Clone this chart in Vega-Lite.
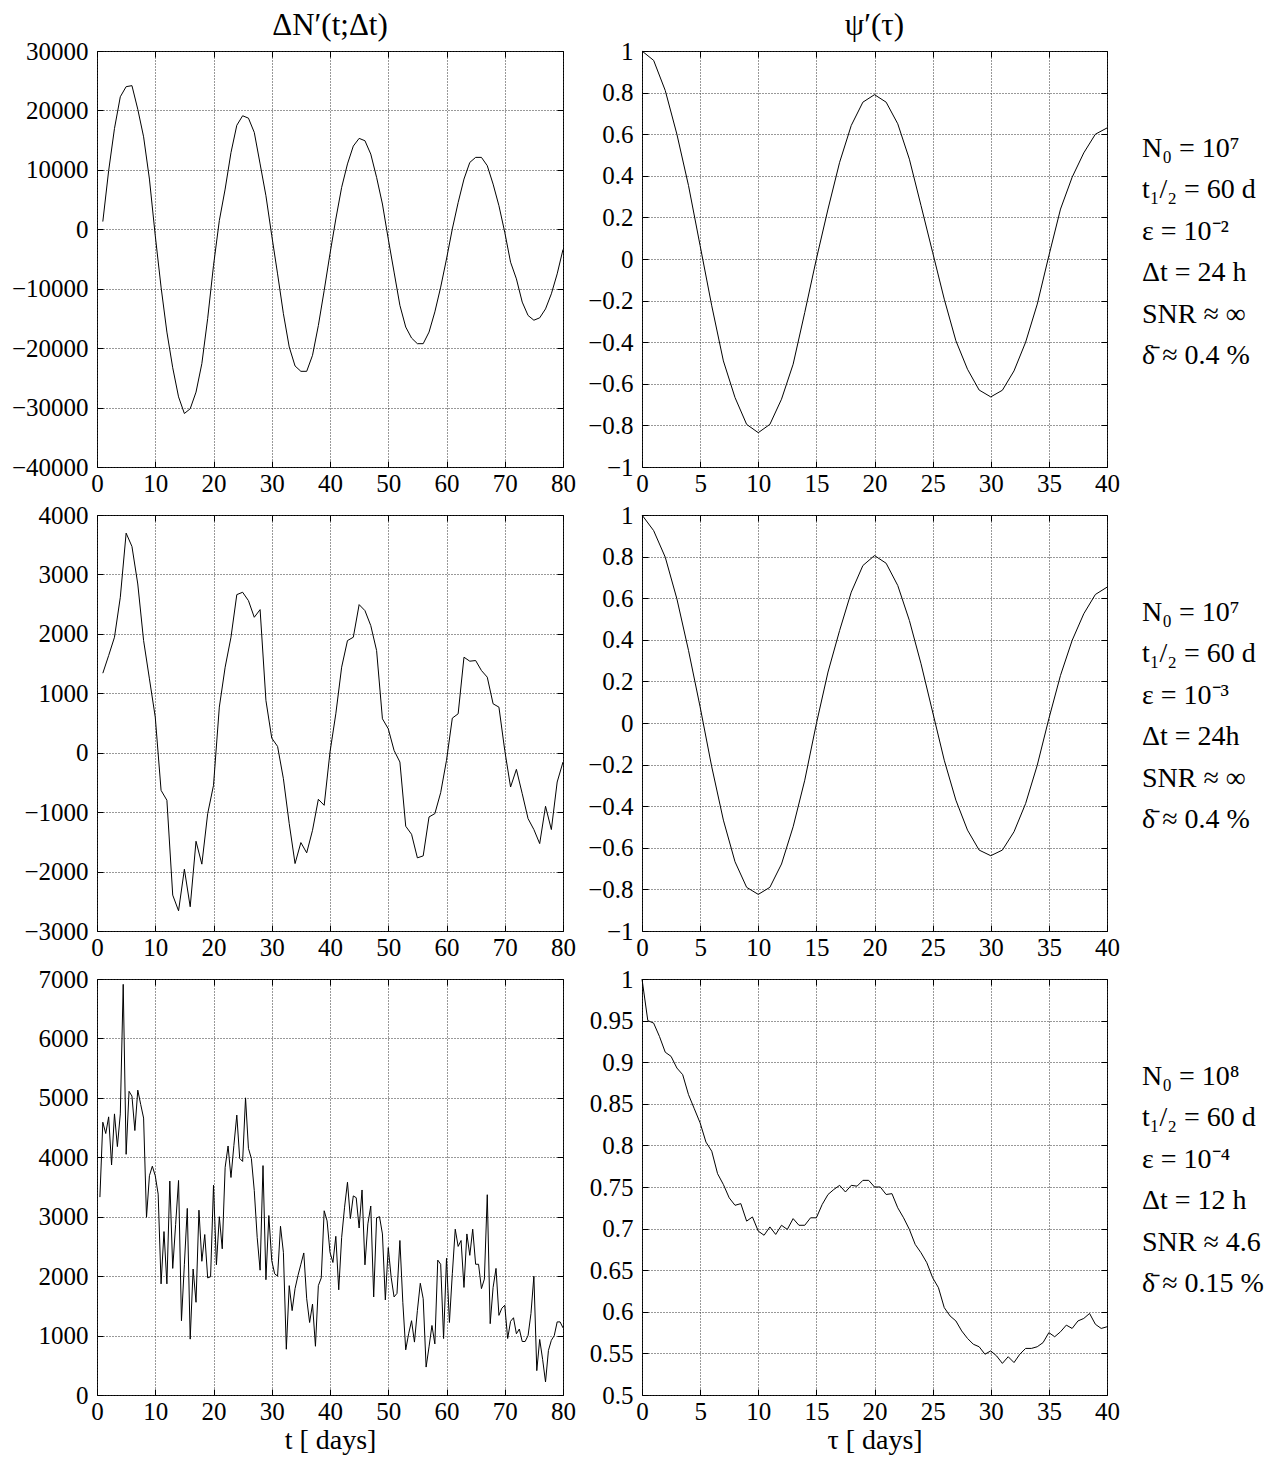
{
  "$schema": "https://vega.github.io/schema/vega-lite/v6.json",
  "background": "white",
  "padding": {"left": 10, "top": 9, "right": 5, "bottom": 5},
  "config": {
    "font": "Liberation Serif",
    "view": {"stroke": "black", "strokeWidth": 1},
    "axis": {
      "labelFont": "Liberation Serif", "labelFontSize": 25, "labelColor": "black",
      "titleFont": "Liberation Serif", "titleFontSize": 28, "titleFontWeight": "normal", "titleColor": "black", "titlePadding": 2,
      "domain": false, "ticks": true, "tickSize": -6, "tickColor": "black", "tickWidth": 1,
      "grid": true, "gridColor": "#333333", "gridDash": [1, 2], "gridWidth": 1,
      "labelOverlap": false, "labelFlush": false
    },
    "axisX": {"labelPadding": 10},
    "axisY": {"labelPadding": 15},
    "title": {"font": "Liberation Serif", "fontSize": 31, "fontWeight": "normal", "color": "black", "offset": -3, "anchor": "middle"}
  },
  "datasets": {
    "r1L": [{"t":1,"v":1300},{"t":2,"v":9850},{"t":3,"v":16960},{"t":4,"v":22300},{"t":5,"v":24000},{"t":6,"v":24170},{"t":7,"v":20200},{"t":8,"v":15560},{"t":9,"v":8450},{"t":10,"v":-1060},
      {"t":11,"v":-9740},{"t":12,"v":-17300},{"t":13,"v":-23300},{"t":14,"v":-28200},{"t":15,"v":-31000},{"t":16,"v":-30200},{"t":17,"v":-27400},{"t":18,"v":-22600},{"t":19,"v":-15000},{"t":20,"v":-6100},
      {"t":21,"v":1450},{"t":22,"v":6770},{"t":23,"v":12900},{"t":24,"v":17500},{"t":25,"v":19100},{"t":26,"v":18700},{"t":27,"v":16300},{"t":28,"v":11000},{"t":29,"v":5650},{"t":30,"v":-1060},
      {"t":31,"v":-7500},{"t":32,"v":-14200},{"t":33,"v":-19800},{"t":34,"v":-23000},{"t":35,"v":-23900},{"t":36,"v":-23900},{"t":37,"v":-21200},{"t":38,"v":-16200},{"t":39,"v":-10300},{"t":40,"v":-4100},
      {"t":41,"v":1730},{"t":42,"v":7050},{"t":43,"v":11000},{"t":44,"v":14000},{"t":45,"v":15300},{"t":46,"v":14900},{"t":47,"v":12650},{"t":48,"v":8730},{"t":49,"v":4250},{"t":50,"v":-1620},
      {"t":51,"v":-7200},{"t":52,"v":-12800},{"t":53,"v":-16450},{"t":54,"v":-18300},{"t":55,"v":-19250},{"t":56,"v":-19250},{"t":57,"v":-17300},{"t":58,"v":-13900},{"t":59,"v":-9740},{"t":60,"v":-5000},
      {"t":61,"v":60},{"t":62,"v":4500},{"t":63,"v":8450},{"t":64,"v":11250},{"t":65,"v":12100},{"t":66,"v":12100},{"t":67,"v":10700},{"t":68,"v":7600},{"t":69,"v":3970},{"t":70,"v":-500},
      {"t":71,"v":-5540},{"t":72,"v":-8340},{"t":73,"v":-12250},{"t":74,"v":-14500},{"t":75,"v":-15300},{"t":76,"v":-14900},{"t":77,"v":-13400},{"t":78,"v":-10860},{"t":79,"v":-7500},{"t":80,"v":-3400}],
    "r1R": [{"t":0,"v":1.0},{"t":1,"v":0.955},{"t":2,"v":0.81},{"t":3,"v":0.6},{"t":4,"v":0.353},{"t":5,"v":0.064},{"t":6,"v":-0.225},{"t":7,"v":-0.49},{"t":8,"v":-0.666},{"t":9,"v":-0.795},
      {"t":10,"v":-0.835},{"t":11,"v":-0.795},{"t":12,"v":-0.674},{"t":13,"v":-0.506},{"t":14,"v":-0.257},{"t":15,"v":0.0},{"t":16,"v":0.24},{"t":17,"v":0.465},{"t":18,"v":0.642},{"t":19,"v":0.754},
      {"t":20,"v":0.79},{"t":21,"v":0.754},{"t":22,"v":0.65},{"t":23,"v":0.48},{"t":24,"v":0.257},{"t":25,"v":0.032},{"t":26,"v":-0.193},{"t":27,"v":-0.393},{"t":28,"v":-0.53},{"t":29,"v":-0.63},
      {"t":30,"v":-0.663},{"t":31,"v":-0.631},{"t":32,"v":-0.538},{"t":33,"v":-0.4},{"t":34,"v":-0.217},{"t":35,"v":0.016},{"t":36,"v":0.24},{"t":37,"v":0.393},{"t":38,"v":0.51},{"t":39,"v":0.6},{"t":40,"v":0.63}],
    "r2L": [{"t":1,"v":1338},{"t":2,"v":1635},{"t":3,"v":1943},{"t":4,"v":2615},{"t":5,"v":3695},{"t":6,"v":3471},{"t":7,"v":2839},{"t":8,"v":1887},{"t":9,"v":1243},{"t":10,"v":600},
      {"t":11,"v":-633},{"t":12,"v":-800},{"t":13,"v":-2396},{"t":14,"v":-2660},{"t":15,"v":-1960},{"t":16,"v":-2592},{"t":17,"v":-1490},{"t":18,"v":-1875},{"t":19,"v":-1025},{"t":20,"v":-549},
      {"t":21,"v":767},{"t":22,"v":1439},{"t":23,"v":1943},{"t":24,"v":2660},{"t":25,"v":2700},{"t":26,"v":2559},{"t":27,"v":2279},{"t":28,"v":2408},{"t":29,"v":879},{"t":30,"v":246},
      {"t":31,"v":106},{"t":32,"v":-437},{"t":33,"v":-1193},{"t":34,"v":-1865},{"t":35,"v":-1512},{"t":36,"v":-1685},{"t":37,"v":-1305},{"t":38,"v":-784},{"t":39,"v":-885},{"t":40,"v":11},
      {"t":41,"v":655},{"t":42,"v":1439},{"t":43,"v":1887},{"t":44,"v":1943},{"t":45,"v":2492},{"t":46,"v":2391},{"t":47,"v":2139},{"t":48,"v":1719},{"t":49,"v":571},{"t":50,"v":403},
      {"t":51,"v":39},{"t":52,"v":-157},{"t":53,"v":-1237},{"t":54,"v":-1372},{"t":55,"v":-1769},{"t":56,"v":-1736},{"t":57,"v":-1081},{"t":58,"v":-1025},{"t":59,"v":-672},{"t":60,"v":-129},
      {"t":61,"v":582},{"t":62,"v":655},{"t":63,"v":1607},{"t":64,"v":1540},{"t":65,"v":1551},{"t":66,"v":1383},{"t":67,"v":1271},{"t":68,"v":823},{"t":69,"v":767},{"t":70,"v":39},
      {"t":71,"v":-577},{"t":72,"v":-280},{"t":73,"v":-689},{"t":74,"v":-1109},{"t":75,"v":-1293},{"t":76,"v":-1529},{"t":77,"v":-901},{"t":78,"v":-1293},{"t":79,"v":-493},{"t":80,"v":-157}],
    "r2R": [{"t":0,"v":1.0},{"t":1,"v":0.925},{"t":2,"v":0.797},{"t":3,"v":0.597},{"t":4,"v":0.349},{"t":5,"v":0.077},{"t":6,"v":-0.211},{"t":7,"v":-0.467},{"t":8,"v":-0.667},{"t":9,"v":-0.79},
      {"t":10,"v":-0.824},{"t":11,"v":-0.79},{"t":12,"v":-0.678},{"t":13,"v":-0.499},{"t":14,"v":-0.275},{"t":15,"v":-0.003},{"t":16,"v":0.245},{"t":17,"v":0.445},{"t":18,"v":0.629},{"t":19,"v":0.757},
      {"t":20,"v":0.805},{"t":21,"v":0.768},{"t":22,"v":0.661},{"t":23,"v":0.493},{"t":24,"v":0.285},{"t":25,"v":0.053},{"t":26,"v":-0.179},{"t":27,"v":-0.371},{"t":28,"v":-0.515},{"t":29,"v":-0.611},
      {"t":30,"v":-0.638},{"t":31,"v":-0.611},{"t":32,"v":-0.523},{"t":33,"v":-0.387},{"t":34,"v":-0.203},{"t":35,"v":0.021},{"t":36,"v":0.229},{"t":37,"v":0.397},{"t":38,"v":0.525},{"t":39,"v":0.618},{"t":40,"v":0.653}],
    "r3L": [{"t":0.5,"v":3330},{"t":1,"v":4590},{"t":1.5,"v":4400},{"t":2,"v":4680},{"t":2.5,"v":3870},{"t":3,"v":4730},{"t":3.5,"v":4180},{"t":4,"v":4730},{"t":4.5,"v":6910},{"t":5,"v":4050},
      {"t":5.5,"v":5110},{"t":6,"v":5030},{"t":6.5,"v":4450},{"t":7,"v":5130},{"t":7.5,"v":4890},{"t":8,"v":4660},{"t":8.5,"v":2990},{"t":9,"v":3690},{"t":9.5,"v":3850},{"t":10,"v":3690},
      {"t":10.5,"v":3380},{"t":11,"v":1870},{"t":11.5,"v":2750},{"t":12,"v":1870},{"t":12.5,"v":3600},{"t":13,"v":2130},{"t":13.5,"v":2870},{"t":14,"v":3610},{"t":14.5,"v":1250},{"t":15,"v":2200},
      {"t":15.5,"v":3140},{"t":16,"v":940},{"t":16.5,"v":2120},{"t":17,"v":1560},{"t":17.5,"v":3110},{"t":18,"v":2250},{"t":18.5,"v":2700},{"t":19,"v":1970},{"t":19.5,"v":1990},{"t":20,"v":3530},
      {"t":20.5,"v":2190},{"t":21,"v":3000},{"t":21.5,"v":2460},{"t":22,"v":3830},{"t":22.5,"v":4190},{"t":23,"v":3660},{"t":23.5,"v":4200},{"t":24,"v":4710},{"t":24.5,"v":3980},{"t":25,"v":3930},
      {"t":25.5,"v":5000},{"t":26,"v":4150},{"t":26.5,"v":3980},{"t":27,"v":3440},{"t":27.5,"v":2650},{"t":28,"v":2100},{"t":28.5,"v":3860},{"t":29,"v":1940},{"t":29.5,"v":3020},{"t":30,"v":2260},
      {"t":30.5,"v":2040},{"t":31,"v":2000},{"t":31.5,"v":2840},{"t":32,"v":2400},{"t":32.5,"v":770},{"t":33,"v":1840},{"t":33.5,"v":1420},{"t":34,"v":1790},{"t":34.5,"v":2010},{"t":35,"v":2200},
      {"t":35.5,"v":2390},{"t":36,"v":1620},{"t":36.5,"v":1220},{"t":37,"v":1530},{"t":37.5,"v":820},{"t":38,"v":1840},{"t":38.5,"v":1970},{"t":39,"v":3100},{"t":39.5,"v":2930},{"t":40,"v":2400},
      {"t":40.5,"v":2230},{"t":41,"v":2670},{"t":41.5,"v":1770},{"t":42,"v":2650},{"t":42.5,"v":3160},{"t":43,"v":3580},{"t":43.5,"v":2970},{"t":44,"v":3350},{"t":44.5,"v":3320},{"t":45,"v":2810},
      {"t":45.5,"v":3450},{"t":46,"v":2190},{"t":46.5,"v":2880},{"t":47,"v":3180},{"t":47.5,"v":1650},{"t":48,"v":2980},{"t":48.5,"v":3000},{"t":49,"v":2710},{"t":49.5,"v":1600},{"t":50,"v":2480},
      {"t":50.5,"v":1980},{"t":51,"v":1650},{"t":51.5,"v":1710},{"t":52,"v":2600},{"t":52.5,"v":1560},{"t":53,"v":760},{"t":53.5,"v":1030},{"t":54,"v":1250},{"t":54.5,"v":890},{"t":55,"v":1420},
      {"t":55.5,"v":1880},{"t":56,"v":1620},{"t":56.5,"v":470},{"t":57,"v":810},{"t":57.5,"v":1170},{"t":58,"v":860},{"t":58.5,"v":2270},{"t":59,"v":2200},{"t":59.5,"v":950},{"t":60,"v":2300},
      {"t":60.5,"v":1220},{"t":61,"v":2040},{"t":61.5,"v":2790},{"t":62,"v":2500},{"t":62.5,"v":2600},{"t":63,"v":1810},{"t":63.5,"v":2710},{"t":64,"v":2350},{"t":64.5,"v":2790},{"t":65,"v":2200},
      {"t":65.5,"v":2200},{"t":66,"v":1790},{"t":66.5,"v":1950},{"t":67,"v":3370},{"t":67.5,"v":1200},{"t":68,"v":1810},{"t":68.5,"v":2130},{"t":69,"v":1340},{"t":69.5,"v":1460},{"t":70,"v":1510},
      {"t":70.5,"v":950},{"t":71,"v":1240},{"t":71.5,"v":1300},{"t":72,"v":1030},{"t":72.5,"v":1110},{"t":73,"v":900},{"t":73.5,"v":900},{"t":74,"v":1000},{"t":74.5,"v":1370},{"t":75,"v":2000},
      {"t":75.5,"v":410},{"t":76,"v":935},{"t":76.5,"v":600},{"t":77,"v":220},{"t":77.5,"v":750},{"t":78,"v":920},{"t":78.5,"v":1000},{"t":79,"v":1230},{"t":79.5,"v":1230},{"t":80,"v":1130}],
    "r3R": [{"t":0,"v":1.0},{"t":0.5,"v":0.95},{"t":1,"v":0.947},{"t":1.5,"v":0.931},{"t":2,"v":0.912},{"t":2.5,"v":0.907},{"t":3,"v":0.893},{"t":3.5,"v":0.885},{"t":4,"v":0.861},{"t":4.5,"v":0.844},
      {"t":5,"v":0.827},{"t":5.5,"v":0.804},{"t":6,"v":0.793},{"t":6.5,"v":0.766},{"t":7,"v":0.753},{"t":7.5,"v":0.737},{"t":8,"v":0.728},{"t":8.5,"v":0.73},{"t":9,"v":0.709},{"t":9.5,"v":0.714},
      {"t":10,"v":0.697},{"t":10.5,"v":0.692},{"t":11,"v":0.702},{"t":11.5,"v":0.693},{"t":12,"v":0.704},{"t":12.5,"v":0.699},{"t":13,"v":0.712},{"t":13.5,"v":0.704},{"t":14,"v":0.704},{"t":14.5,"v":0.713},
      {"t":15,"v":0.713},{"t":15.5,"v":0.729},{"t":16,"v":0.741},{"t":16.5,"v":0.747},{"t":17,"v":0.752},{"t":17.5,"v":0.744},{"t":18,"v":0.752},{"t":18.5,"v":0.751},{"t":19,"v":0.758},{"t":19.5,"v":0.758},
      {"t":20,"v":0.75},{"t":20.5,"v":0.75},{"t":21,"v":0.741},{"t":21.5,"v":0.742},{"t":22,"v":0.725},{"t":22.5,"v":0.713},{"t":23,"v":0.699},{"t":23.5,"v":0.681},{"t":24,"v":0.671},{"t":24.5,"v":0.659},
      {"t":25,"v":0.641},{"t":25.5,"v":0.629},{"t":26,"v":0.605},{"t":26.5,"v":0.595},{"t":27,"v":0.589},{"t":27.5,"v":0.577},{"t":28,"v":0.568},{"t":28.5,"v":0.561},{"t":29,"v":0.558},{"t":29.5,"v":0.549},
      {"t":30,"v":0.553},{"t":30.5,"v":0.547},{"t":31,"v":0.538},{"t":31.5,"v":0.546},{"t":32,"v":0.539},{"t":32.5,"v":0.549},{"t":33,"v":0.556},{"t":33.5,"v":0.556},{"t":34,"v":0.558},{"t":34.5,"v":0.563},
      {"t":35,"v":0.575},{"t":35.5,"v":0.57},{"t":36,"v":0.576},{"t":36.5,"v":0.584},{"t":37,"v":0.58},{"t":37.5,"v":0.589},{"t":38,"v":0.592},{"t":38.5,"v":0.598},{"t":39,"v":0.585},{"t":39.5,"v":0.58},{"t":40,"v":0.582}],
    "a1": [{"line":1,"col":1,"text":"N₀ = 10⁷"},{"line":2,"col":1,"text":"t₁/₂ = 60 d"},{"line":3,"col":1,"text":"ε = 10⁻²"},{"line":4,"col":1,"text":"Δt = 24 h"},{"line":5,"col":1,"text":"SNR ≈ ∞"},{"line":6,"col":1,"text":"δ̄ ≈ 0.4 %"}],
    "a2": [{"line":1,"col":1,"text":"N₀ = 10⁷"},{"line":2,"col":1,"text":"t₁/₂ = 60 d"},{"line":3,"col":1,"text":"ε = 10⁻³"},{"line":4,"col":1,"text":"Δt =  24h"},{"line":5,"col":1,"text":"SNR ≈ ∞"},{"line":6,"col":1,"text":"δ̄ ≈ 0.4 %"}],
    "a3": [{"line":1,"col":1,"text":"N₀ = 10⁸"},{"line":2,"col":1,"text":"t₁/₂ = 60 d"},{"line":3,"col":1,"text":"ε = 10⁻⁴"},{"line":4,"col":1,"text":"Δt = 12 h"},{"line":5,"col":1,"text":"SNR ≈ 4.6"},{"line":6,"col":1,"text":"δ̄ ≈ 0.15 %"}]
  },
  "columns": 2,
  "bounds": "flush",
  "spacing": {"row": 48, "column": 79},
  "concat": [
    {
      "width": 466, "height": 416, "title": "ΔN′(t;Δt)",
      "data": {"name": "r1L"},
      "layer": [
        {"mark": {"type": "line", "color": "black", "strokeWidth": 1},
         "encoding": {
           "x": {"field": "t", "type": "quantitative", "scale": {"domain": [0, 80], "nice": false, "zero": false}, "axis": {"orient": "bottom", "values": [0,10,20,30,40,50,60,70,80], "format": "d", "title": null}},
           "y": {"field": "v", "type": "quantitative", "scale": {"domain": [-40000, 30000], "nice": false, "zero": false}, "axis": {"orient": "left", "values": [-40000,-30000,-20000,-10000,0,10000,20000,30000], "format": "d", "title": null}}
         }},
        {"mark": {"type": "line", "strokeOpacity": 0},
         "encoding": {
           "x": {"field": "t", "type": "quantitative", "scale": {"domain": [0, 80], "nice": false, "zero": false}, "axis": {"orient": "top", "values": [0,10,20,30,40,50,60,70,80], "labels": false, "grid": false, "title": null}},
           "y": {"field": "v", "type": "quantitative", "scale": {"domain": [-40000, 30000], "nice": false, "zero": false}, "axis": {"orient": "right", "values": [-40000,-30000,-20000,-10000,0,10000,20000,30000], "labels": false, "grid": false, "title": null}}
         }}
      ]
    },
    {
      "width": 465, "height": 416, "title": "ψ′(τ)",
      "data": {"name": "r1R"},
      "resolve": {"scale": {"x": "independent", "y": "independent"}},
      "layer": [
        {"mark": {"type": "line", "color": "black", "strokeWidth": 1},
         "encoding": {
           "x": {"field": "t", "type": "quantitative", "scale": {"domain": [0, 40], "nice": false, "zero": false}, "axis": {"orient": "bottom", "values": [0,5,10,15,20,25,30,35,40], "format": "d", "title": null}},
           "y": {"field": "v", "type": "quantitative", "scale": {"domain": [-1, 1], "nice": false, "zero": false}, "axis": {"orient": "left", "values": [-1,-0.8,-0.6,-0.4,-0.2,0,0.2,0.4,0.6,0.8,1], "format": ".1~f", "title": null}}
         }},
        {"mark": {"type": "line", "strokeOpacity": 0},
         "encoding": {
           "x": {"field": "t", "type": "quantitative", "scale": {"domain": [0, 40], "nice": false, "zero": false}, "axis": {"orient": "top", "values": [0,5,10,15,20,25,30,35,40], "labels": false, "grid": false, "title": null}},
           "y": {"field": "v", "type": "quantitative", "scale": {"domain": [-1, 1], "nice": false, "zero": false}, "axis": {"orient": "right", "values": [-1,-0.8,-0.6,-0.4,-0.2,0,0.2,0.4,0.6,0.8,1], "labels": false, "grid": false, "title": null}}
         }},
        {"data": {"name": "a1"},
         "mark": {"type": "text", "align": "left", "baseline": "middle", "fontSize": 28, "font": "Liberation Serif", "color": "black"},
         "encoding": {
           "x": {"field": "col", "type": "quantitative", "scale": {"domain": [0, 0.93], "nice": false, "zero": false}, "axis": null},
           "y": {"field": "line", "type": "quantitative", "scale": {"domain": [-1.37, 8.68], "reverse": true, "nice": false, "zero": false}, "axis": null},
           "text": {"field": "text"}
         }}
      ]
    },
    {
      "width": 466, "height": 416,
      "data": {"name": "r2L"},
      "layer": [
        {"mark": {"type": "line", "color": "black", "strokeWidth": 1},
         "encoding": {
           "x": {"field": "t", "type": "quantitative", "scale": {"domain": [0, 80], "nice": false, "zero": false}, "axis": {"orient": "bottom", "values": [0,10,20,30,40,50,60,70,80], "format": "d", "title": null}},
           "y": {"field": "v", "type": "quantitative", "scale": {"domain": [-3000, 4000], "nice": false, "zero": false}, "axis": {"orient": "left", "values": [-3000,-2000,-1000,0,1000,2000,3000,4000], "format": "d", "title": null}}
         }},
        {"mark": {"type": "line", "strokeOpacity": 0},
         "encoding": {
           "x": {"field": "t", "type": "quantitative", "scale": {"domain": [0, 80], "nice": false, "zero": false}, "axis": {"orient": "top", "values": [0,10,20,30,40,50,60,70,80], "labels": false, "grid": false, "title": null}},
           "y": {"field": "v", "type": "quantitative", "scale": {"domain": [-3000, 4000], "nice": false, "zero": false}, "axis": {"orient": "right", "values": [-3000,-2000,-1000,0,1000,2000,3000,4000], "labels": false, "grid": false, "title": null}}
         }}
      ]
    },
    {
      "width": 465, "height": 416,
      "data": {"name": "r2R"},
      "resolve": {"scale": {"x": "independent", "y": "independent"}},
      "layer": [
        {"mark": {"type": "line", "color": "black", "strokeWidth": 1},
         "encoding": {
           "x": {"field": "t", "type": "quantitative", "scale": {"domain": [0, 40], "nice": false, "zero": false}, "axis": {"orient": "bottom", "values": [0,5,10,15,20,25,30,35,40], "format": "d", "title": null}},
           "y": {"field": "v", "type": "quantitative", "scale": {"domain": [-1, 1], "nice": false, "zero": false}, "axis": {"orient": "left", "values": [-1,-0.8,-0.6,-0.4,-0.2,0,0.2,0.4,0.6,0.8,1], "format": ".1~f", "title": null}}
         }},
        {"mark": {"type": "line", "strokeOpacity": 0},
         "encoding": {
           "x": {"field": "t", "type": "quantitative", "scale": {"domain": [0, 40], "nice": false, "zero": false}, "axis": {"orient": "top", "values": [0,5,10,15,20,25,30,35,40], "labels": false, "grid": false, "title": null}},
           "y": {"field": "v", "type": "quantitative", "scale": {"domain": [-1, 1], "nice": false, "zero": false}, "axis": {"orient": "right", "values": [-1,-0.8,-0.6,-0.4,-0.2,0,0.2,0.4,0.6,0.8,1], "labels": false, "grid": false, "title": null}}
         }},
        {"data": {"name": "a2"},
         "mark": {"type": "text", "align": "left", "baseline": "middle", "fontSize": 28, "font": "Liberation Serif", "color": "black"},
         "encoding": {
           "x": {"field": "col", "type": "quantitative", "scale": {"domain": [0, 0.93], "nice": false, "zero": false}, "axis": null},
           "y": {"field": "line", "type": "quantitative", "scale": {"domain": [-1.37, 8.68], "reverse": true, "nice": false, "zero": false}, "axis": null},
           "text": {"field": "text"}
         }}
      ]
    },
    {
      "width": 466, "height": 416,
      "data": {"name": "r3L"},
      "layer": [
        {"mark": {"type": "line", "color": "black", "strokeWidth": 1},
         "encoding": {
           "x": {"field": "t", "type": "quantitative", "scale": {"domain": [0, 80], "nice": false, "zero": false}, "axis": {"orient": "bottom", "values": [0,10,20,30,40,50,60,70,80], "format": "d", "title": "t [ days]"}},
           "y": {"field": "v", "type": "quantitative", "scale": {"domain": [0, 7000], "nice": false, "zero": false}, "axis": {"orient": "left", "values": [0,1000,2000,3000,4000,5000,6000,7000], "format": "d", "title": null}}
         }},
        {"mark": {"type": "line", "strokeOpacity": 0},
         "encoding": {
           "x": {"field": "t", "type": "quantitative", "scale": {"domain": [0, 80], "nice": false, "zero": false}, "axis": {"orient": "top", "values": [0,10,20,30,40,50,60,70,80], "labels": false, "grid": false, "title": null}},
           "y": {"field": "v", "type": "quantitative", "scale": {"domain": [0, 7000], "nice": false, "zero": false}, "axis": {"orient": "right", "values": [0,1000,2000,3000,4000,5000,6000,7000], "labels": false, "grid": false, "title": null}}
         }}
      ]
    },
    {
      "width": 465, "height": 416,
      "data": {"name": "r3R"},
      "resolve": {"scale": {"x": "independent", "y": "independent"}},
      "layer": [
        {"mark": {"type": "line", "color": "black", "strokeWidth": 1},
         "encoding": {
           "x": {"field": "t", "type": "quantitative", "scale": {"domain": [0, 40], "nice": false, "zero": false}, "axis": {"orient": "bottom", "values": [0,5,10,15,20,25,30,35,40], "format": "d", "title": "τ [ days]"}},
           "y": {"field": "v", "type": "quantitative", "scale": {"domain": [0.5, 1], "nice": false, "zero": false}, "axis": {"orient": "left", "values": [0.5,0.55,0.6,0.65,0.7,0.75,0.8,0.85,0.9,0.95,1], "format": ".2~f", "title": null}}
         }},
        {"mark": {"type": "line", "strokeOpacity": 0},
         "encoding": {
           "x": {"field": "t", "type": "quantitative", "scale": {"domain": [0, 40], "nice": false, "zero": false}, "axis": {"orient": "top", "values": [0,5,10,15,20,25,30,35,40], "labels": false, "grid": false, "title": null}},
           "y": {"field": "v", "type": "quantitative", "scale": {"domain": [0.5, 1], "nice": false, "zero": false}, "axis": {"orient": "right", "values": [0.5,0.55,0.6,0.65,0.7,0.75,0.8,0.85,0.9,0.95,1], "labels": false, "grid": false, "title": null}}
         }},
        {"data": {"name": "a3"},
         "mark": {"type": "text", "align": "left", "baseline": "middle", "fontSize": 28, "font": "Liberation Serif", "color": "black"},
         "encoding": {
           "x": {"field": "col", "type": "quantitative", "scale": {"domain": [0, 0.93], "nice": false, "zero": false}, "axis": null},
           "y": {"field": "line", "type": "quantitative", "scale": {"domain": [-1.37, 8.68], "reverse": true, "nice": false, "zero": false}, "axis": null},
           "text": {"field": "text"}
         }}
      ]
    }
  ]
}
